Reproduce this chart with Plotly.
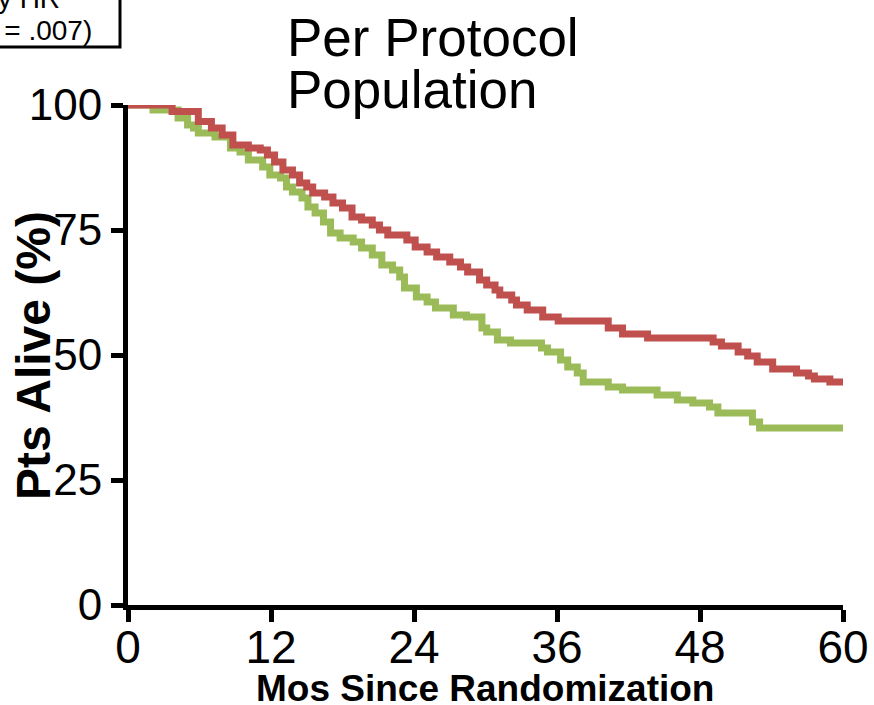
import plotly.graph_objects as go

# Kaplan-Meier step data (months, % alive)
red_months = [0, 3.7, 5.9, 7.0, 7.9, 8.8, 10.1, 11.1, 11.7, 12.3, 13.0, 13.8, 14.4, 15.0, 15.5,
              16.5, 17.2, 18.0, 18.8, 19.6, 20.5, 21.1, 21.8, 23.4, 24.1, 25.1, 25.9, 27.0, 27.9,
              28.5, 29.5, 30.1, 30.8, 31.2, 32.2, 32.6, 33.5, 34.8, 36.1, 40.3, 41.5, 43.6, 49.1,
              49.8, 51.2, 52.0, 52.8, 54.1, 56.1, 57.1, 57.6, 58.9, 60]
red_pct = [100, 98.7, 96.7, 95.4, 94.0, 92.0, 91.4, 91.0, 90.0, 88.6, 87.0, 86.0, 84.4, 83.6, 82.4,
           81.6, 80.4, 79.4, 77.6, 77.0, 76.0, 75.0, 74.0, 73.0, 71.6, 70.6, 69.6, 68.6, 67.6,
           66.6, 65.0, 64.0, 63.0, 62.0, 61.0, 60.0, 59.0, 57.6, 56.8, 55.4, 54.2, 53.4, 52.6,
           51.8, 50.6, 49.8, 48.6, 47.2, 46.4, 45.8, 45.2, 44.6, 44.6]

green_months = [0, 2.1, 4.2, 5.0, 5.5, 5.9, 7.3, 8.6, 9.4, 10.1, 11.3, 11.9, 12.8, 13.3, 13.8,
                14.6, 15.1, 15.7, 16.4, 17.0, 17.8, 18.9, 19.6, 20.5, 21.3, 22.2, 22.8, 23.2, 24.2,
                25.1, 25.8, 27.3, 28.4, 29.7, 30.1, 31.0, 32.1, 34.7, 35.2, 36.3, 36.9, 37.7, 38.2,
                40.3, 41.5, 44.4, 46.1, 47.4, 48.8, 49.5, 52.4, 53.0, 60]
green_pct = [100, 99.0, 97.4, 96.0, 95.4, 94.4, 93.6, 91.4, 90.6, 89.0, 87.6, 86.0, 85.4, 83.6, 82.6,
             81.4, 79.6, 78.4, 76.6, 74.4, 73.4, 72.6, 71.4, 70.0, 68.0, 67.0, 65.6, 63.4, 61.6,
             60.6, 59.4, 58.0, 57.6, 55.4, 54.6, 53.0, 52.4, 51.4, 50.6, 49.0, 47.6, 46.4, 44.6,
             43.6, 43.0, 42.0, 41.0, 40.4, 39.6, 38.4, 36.6, 35.4, 35.4]

x_ticks = [0, 12, 24, 36, 48, 60]
y_ticks = [0, 25, 50, 75, 100]

FONT = "Liberation Sans, Arial, sans-serif"

fig = go.Figure()
fig.add_trace(go.Scatter(x=green_months, y=green_pct, mode="lines", line_shape="hv",
                         line=dict(color="#9BBB59", width=7), cliponaxis=False,
                         showlegend=False, hoverinfo="skip"))
fig.add_trace(go.Scatter(x=red_months, y=red_pct, mode="lines", line_shape="hv",
                         line=dict(color="#C0504D", width=7), cliponaxis=False,
                         showlegend=False, hoverinfo="skip"))

fig.update_layout(
    width=874, height=705,
    margin=dict(l=128, r=31, t=105, b=100, pad=0),
    paper_bgcolor="white", plot_bgcolor="white",
    font=dict(family=FONT, color="black"),
    xaxis=dict(range=[0, 60], tickvals=x_ticks, ticktext=[str(v) for v in x_ticks],
               showgrid=False, zeroline=False, showline=True, linewidth=5, linecolor="black",
               ticks="outside", ticklen=12, tickwidth=5, tickcolor="black", automargin=False,
               ticklabelstandoff=-14,
               tickfont=dict(size=46, family=FONT)),
    yaxis=dict(range=[0, 100], tickvals=y_ticks, ticktext=[str(v) for v in y_ticks],
               showgrid=False, zeroline=False, showline=True, linewidth=5, linecolor="black",
               ticks="outside", ticklen=12, tickwidth=5, tickcolor="black", automargin=False,
               tickfont=dict(size=44, family=FONT)),
)

annotations = [
    dict(text="<b>Pts Alive (%)</b>", x=(33 - 128) / 715, y=(605 - 356) / 500,
         xref="paper", yref="paper",
         textangle=-90, showarrow=False, xanchor="center", yanchor="middle",
         font=dict(size=48, family=FONT)),
    dict(text="<b>Mos Since Randomization</b>", x=(485 - 128) / 715, y=-0.166,
         xref="paper", yref="paper",
         showarrow=False, xanchor="center", yanchor="middle",
         font=dict(size=37, family=FONT)),
    dict(text="Per Protocol", x=(285 - 128) / 715, y=(605 - 37) / 500, xref="paper", yref="paper",
         showarrow=False, xanchor="left", yanchor="middle", font=dict(size=53, family=FONT)),
    dict(text="Population", x=(285 - 128) / 715, y=(605 - 90) / 500, xref="paper", yref="paper",
         showarrow=False, xanchor="left", yanchor="middle", font=dict(size=53, family=FONT)),
    dict(text="Stratified by HR", x=(62 - 128) / 715, y=(605 + 2) / 500, xref="paper", yref="paper",
         showarrow=False, xanchor="right", yanchor="middle", font=dict(size=28, family=FONT)),
    dict(text="(P = .007)", x=(94 - 128) / 715, y=(605 - 30) / 500, xref="paper", yref="paper",
         showarrow=False, xanchor="right", yanchor="middle", font=dict(size=28, family=FONT)),
]
fig.update_layout(annotations=annotations)

fig.add_shape(type="rect", xref="paper", yref="paper",
              x0=-0.5, x1=(120 - 128) / 715, y0=(605 - 47) / 500, y1=1.4,
              line=dict(color="black", width=3), fillcolor="rgba(0,0,0,0)")

fig.write_html("out.html")
